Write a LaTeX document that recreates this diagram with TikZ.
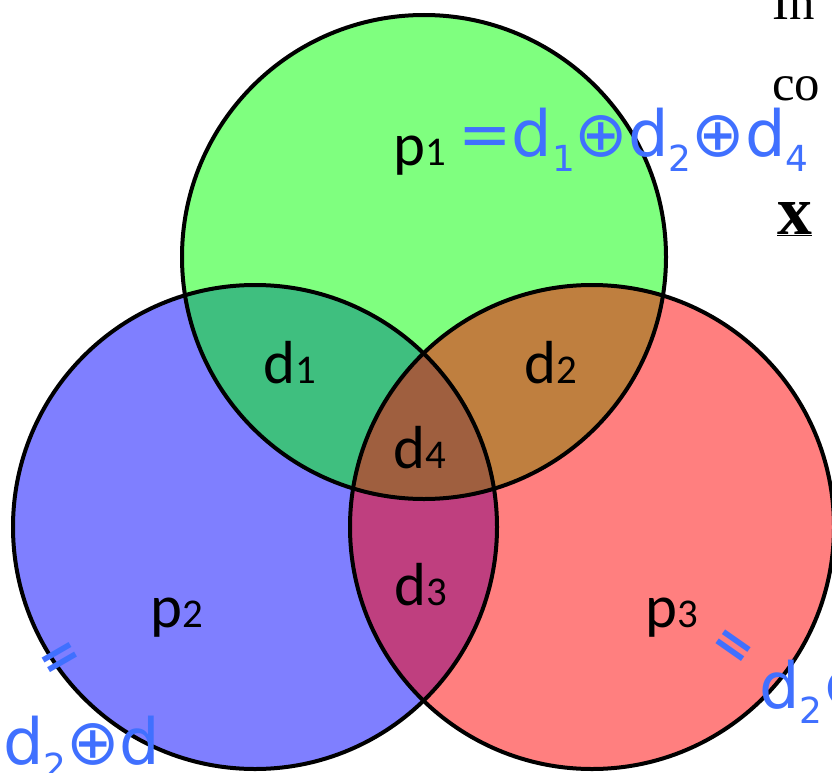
\documentclass[tikz,border=0pt]{standalone}
\usepackage{fontspec}
\setmainfont{Liberation Serif}
\newfontfamily\labelfont{Carlito}
\newfontfamily\handfont{DejaVu Sans}
\usepackage{xcolor}
\usepackage{tikz}
\usetikzlibrary{positioning}
\definecolor{inkblue}{RGB}{64,112,255}
\tikzset{
    setfill/.style={fill opacity=0.5},
    setline/.style={draw=black, line width=4bp},
    region/.style={font=\labelfont\fontsize{61}{61}\selectfont, inner sep=0pt, anchor=base},
    ink/.style={text=inkblue, font=\handfont\fontsize{64}{64}\selectfont, inner sep=0pt, anchor=base west},
    inkeq/.style={text=inkblue, font=\handfont\bfseries\fontsize{50}{50}\selectfont, inner sep=0pt, anchor=center},
    pagetext/.style={font=\fontsize{51}{51}\selectfont, inner sep=0pt, anchor=base west},
}
\newcommand{\lbl}[2]{#1{\fontsize{41}{41}\selectfont #2}}
\newcommand{\inksub}[1]{\raisebox{-0.25em}{\fontsize{36}{36}\selectfont #1}}

\begin{document}
\begin{tikzpicture}[x=1bp, y=-1bp]
            \useasboundingbox (0,0) rectangle (832,773);
            \clip (0,0) rectangle (832,773);
            \fill[white] (0,0) rectangle (832,773);
            % --- text of the page behind ---
            \node[pagetext] (tin) at (772,20) {In};
            \node[pagetext] (tco) at (772,100) {co};
            \node[pagetext, font=\fontsize{70}{70}\selectfont\bfseries] (tx) at (777,234) {\underline{x}};
            % --- circle centres ---
            \coordinate (cp2) at (255,527);
            \coordinate (cp1) at (424,257);
            \coordinate (cp3) at (592,527);
            % --- fills, blue first, then green, then red ---
            \fill[blue, setfill] (cp2) circle[radius=242];
            \fill[green, setfill] (cp1) circle[radius=242];
            \fill[red, setfill] (cp3) circle[radius=242];
            % --- outlines ---
            \draw[setline] (cp2) circle[radius=242];
            \draw[setline] (cp1) circle[radius=242];
            \draw[setline] (cp3) circle[radius=242];
            % --- region labels ---
            \node[region] (p1) at (420,165) {\lbl{p}{1}};
            \node[region] (d1) at (290,383) {\lbl{d}{1}};
            \node[region] (d2) at (551,383) {\lbl{d}{2}};
            \node[region] (d4) at (420,468) {\lbl{d}{4}};
            \node[region] (d3) at (421,605) {\lbl{d}{3}};
            \node[region] (p2) at (177,627) {\lbl{p}{2}};
            \node[region] (p3) at (672,627) {\lbl{p}{3}};
            % --- handwritten notes ---
            \node[ink] (n1) at (458,156) {=d\inksub{1}⊕d\inksub{2}⊕d\inksub{4}};
            \node[inkeq, rotate=30] (n2eq) at (62,661) {=};
            \node[ink] (n2) at (3,764) {d\inksub{2}⊕d};
            \node[inkeq, rotate=-35] (n3eq) at (731,649) {=};
            \node[ink] (n3) at (759,708) {d\inksub{2}⊕};
        \end{tikzpicture}
\end{document}
